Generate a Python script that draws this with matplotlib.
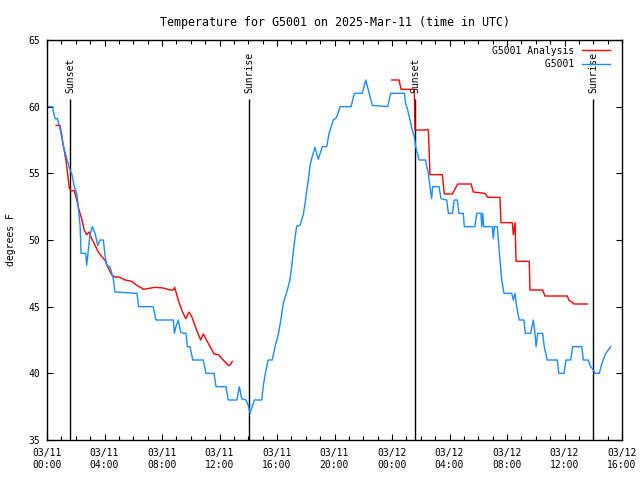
import matplotlib
matplotlib.use("Agg")
import matplotlib.pyplot as plt
import matplotlib.dates as mdates
import numpy as np
import pandas as pd

# hours after 2025-03-11 00:00 UTC, temperature in F
obs_hours = [0.00, 0.37, 0.56, 0.72, 0.90, 1.13, 1.37, 1.60, 1.72, 1.90, 2.07, 2.18, 2.30, 2.37,
             2.69, 2.76, 2.83, 2.99, 3.15, 3.34, 3.53, 3.69, 3.92, 4.03, 4.15, 4.38, 4.61, 4.73,
             6.26, 6.37, 7.39, 7.58, 8.79, 8.86, 8.97, 9.13, 9.30, 9.48, 9.67, 9.76, 9.95, 10.14,
             10.87, 11.06, 11.62, 11.76, 12.45, 12.61, 13.20, 13.38, 13.54, 13.84, 14.00, 14.12,
             14.42, 14.94, 15.05, 15.21, 15.39, 15.67, 15.86, 16.09, 16.28, 16.44, 16.68, 16.90,
             17.02, 17.20, 17.37, 17.60, 17.83, 17.95, 18.07, 18.18, 18.30, 18.41, 18.64, 18.87,
             19.15, 19.46, 19.62, 19.92, 20.15, 20.38, 21.15, 21.38, 21.93, 22.17, 22.63, 23.70,
             23.91, 24.86, 24.95, 25.09, 25.25, 25.41, 25.55, 25.65, 25.79, 25.88, 26.34, 26.41,
             26.53, 26.64, 26.76, 26.83, 27.27, 27.41, 27.81, 27.92, 28.20, 28.33, 28.54, 28.66,
             28.96, 29.03, 29.77, 29.89, 30.19, 30.24, 30.31, 30.38, 30.98, 31.05, 31.12, 31.33,
             31.40, 31.51, 31.63, 31.79, 32.33, 32.44, 32.56, 32.67, 32.85, 33.18, 33.27, 33.65,
             33.83, 33.95, 34.02, 34.14, 34.48, 34.59, 34.80, 35.50, 35.60, 35.97, 36.10, 36.43,
             36.57, 37.20, 37.31, 37.66, 37.77, 38.00, 38.12, 38.42, 38.59, 38.82, 39.21]
obs_temp = [60.0, 60.0, 59.1, 59.1, 58.4, 57.1, 56.1, 55.25, 55.0, 54.0, 53.5, 52.4, 51.1, 49.0,
            49.0, 48.1, 48.8, 50.4, 51.0, 50.5, 49.6, 50.0, 50.0, 48.9, 48.1, 48.0, 47.1, 46.1,
            46.0, 45.0, 45.0, 44.0, 44.0, 43.0, 43.5, 44.0, 43.1, 43.0, 43.0, 42.0, 42.0, 41.0,
            41.0, 40.0, 40.0, 39.0, 39.0, 38.0, 38.0, 39.0, 38.1, 38.0, 37.6, 37.0,
            38.0, 38.0, 39.1, 40.1, 41.0, 41.0, 42.0, 42.9, 44.1, 45.25, 46.1, 47.0,
            48.0, 49.75, 51.05, 51.1, 51.9, 52.75, 53.75, 54.5, 55.6, 56.1, 56.95, 56.05,
            57.0, 57.0, 58.0, 59.0, 59.2, 60.0, 60.0, 61.0, 61.0, 62.0, 60.1, 60.0,
            61.0, 61.0, 60.25, 59.75, 59.0, 58.25, 57.75, 57.0, 56.4, 56.0, 56.0, 55.5,
            55.0, 54.0, 53.1, 54.0, 54.0, 53.1, 53.0, 52.0, 52.0, 53.0, 53.0, 52.0,
            52.0, 51.0, 51.0, 52.0, 52.0, 51.0, 52.0, 51.0, 51.0, 50.1, 51.0, 51.0,
            50.0, 48.5, 47.0, 46.0, 46.0, 45.5, 46.0, 45.0, 44.0, 44.0, 43.0, 43.0,
            44.0, 43.0, 42.0, 43.0, 43.0, 42.0, 41.0, 41.0, 40.0, 40.0, 41.0, 41.0,
            42.0, 42.0, 41.0, 41.0, 40.6, 40.25, 40.0, 40.0, 40.7, 41.4, 42.0]

ana1_hours = [0.63, 0.90, 1.02, 1.13, 1.30, 1.44, 1.55, 1.67, 1.90, 2.07, 2.23, 2.41, 2.59, 2.76,
              2.92, 3.11, 3.34, 3.57, 3.81, 4.03, 4.26, 4.50, 4.73, 4.96, 5.43, 5.89, 6.24, 6.59,
              6.70, 7.51, 8.09, 8.56, 8.79, 8.88, 9.13, 9.37, 9.65, 9.88, 10.07, 10.41, 10.69,
              10.87, 11.22, 11.62, 11.92, 12.26, 12.61, 12.73, 12.89]
ana1_temp = [58.6, 58.6, 57.9, 57.1, 56.1, 54.9, 53.9, 53.7, 53.7, 53.0, 52.25, 51.6, 50.75, 50.4,
             50.6, 50.1, 49.6, 49.1, 48.75, 48.5, 47.9, 47.4, 47.2, 47.25, 47.0, 46.9, 46.6, 46.4,
             46.3, 46.45, 46.4, 46.25, 46.25, 46.45, 45.5, 44.75, 44.1, 44.6, 44.25, 43.25, 42.5,
             42.95, 42.25, 41.45, 41.4, 41.0, 40.6, 40.6, 40.9]

ana2_hours = [23.98, 24.49, 24.63, 25.55, 25.60, 26.34, 26.48, 26.53, 26.64, 27.50, 27.64, 28.20,
              28.57, 29.50, 29.66, 30.47, 30.66, 31.51, 31.58, 32.37, 32.44, 32.56, 32.63, 33.55,
              33.60, 34.48, 34.64, 36.19, 36.33, 36.57, 36.66, 37.59]
ana2_temp = [62.0, 62.0, 61.3, 61.3, 58.25, 58.25, 58.3, 58.25, 54.9, 54.9, 53.45, 53.45,
             54.2, 54.2, 53.6, 53.5, 53.2, 53.2, 51.3, 51.3, 50.4, 51.3, 48.4, 48.4,
             46.25, 46.25, 45.8, 45.8, 45.45, 45.3, 45.2, 45.2]

sun_hours = [1.60, 14.05, 25.60, 37.98]
sun_names = ["Sunset", "Sunrise", "Sunset", "Sunrise"]

t0 = pd.Timestamp("2025-03-11 00:00")
def to_time(h):
    return (t0 + pd.to_timedelta(np.array(h), unit="h")).to_numpy()

plt.rcParams["font.family"] = "DejaVu Sans Mono"
plt.rcParams["font.size"] = 7.0

fig = plt.figure(figsize=(6.4, 4.8), dpi=100)
ax = fig.add_axes([47 / 640, 40 / 480, 575 / 640, 400 / 480])

for h, name in zip(sun_hours, sun_names):
    ax.vlines(to_time([h]), 35, 60.55, color="black", lw=1.0)
    ax.text(to_time([h])[0], 61.0, name, rotation=90, ha="center", va="bottom")

red = "#ff0000"
blue = "#1a8cff"
ax.plot(to_time(ana1_hours), ana1_temp, color=red, lw=1.0, label="G5001 Analysis")
ax.plot(to_time(ana2_hours), ana2_temp, color=red, lw=1.0)
ax.plot(to_time(obs_hours), obs_temp, color=blue, lw=1.0, label="         G5001")

ax.set_xlim(to_time([0])[0], to_time([40])[0])
ax.set_ylim(35, 65)
ax.set_yticks(np.arange(35, 66, 5))
ax.xaxis.set_major_locator(mdates.HourLocator(byhour=range(0, 24, 4)))
ax.xaxis.set_minor_locator(mdates.HourLocator())
ax.xaxis.set_major_formatter(mdates.DateFormatter("%m/%d\n%H:%M"))

ax.tick_params(which="both", direction="in", top=True, right=True, width=0.8)
ax.tick_params(which="major", length=4.5)
ax.tick_params(which="minor", length=2.8)
ax.tick_params(axis="x", which="major", pad=6)
ax.tick_params(axis="y", pad=5)
for s in ax.spines.values():
    s.set_linewidth(1.0)

ax.set_title("Temperature for G5001 on 2025-Mar-11 (time in UTC)", pad=10)
ax.set_ylabel("degrees F")
ax.yaxis.set_label_coords(-0.054, 0.5)

leg = ax.legend(loc="upper right", frameon=False, markerfirst=False,
                handlelength=2.9, handletextpad=0.8, labelspacing=0.35,
                borderaxespad=0.0, bbox_to_anchor=(0.986, 0.995))

fig.savefig("out.png", dpi=100)
